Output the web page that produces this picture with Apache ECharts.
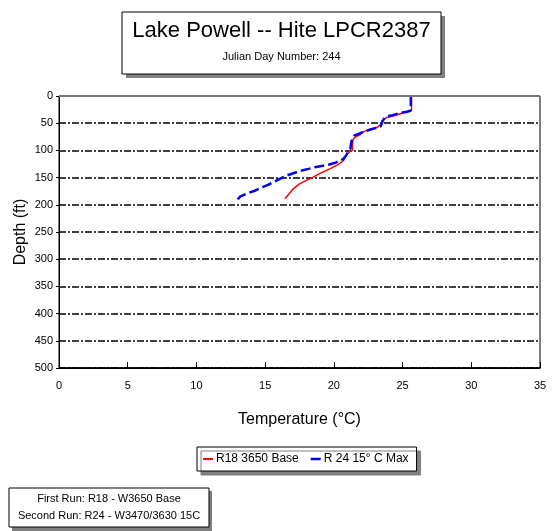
<!DOCTYPE html>
<html>
<head>
<meta charset="utf-8">
<script src="https://cdn.jsdelivr.net/npm/echarts@6/dist/echarts.min.js"></script>
<style>html,body{margin:0;padding:0;background:#fff;}#c{width:558px;height:531px;}</style>
</head>
<body>
<div id="c"></div>
<script>
var titleText = 'Lake Powell -- Hite LPCR2387';
var subtitleText = 'Julian Day Number: 244';
var xTicks = [0, 5, 10, 15, 20, 25, 30, 35];
var yTicks = [0, 50, 100, 150, 200, 250, 300, 350, 400, 450, 500];
var seriesNames = ['R18 3650 Base', 'R 24 15\u00b0 C Max'];
var noteLines = ['First Run: R18 - W3650 Base', 'Second Run: R24 - W3470/3630 15C'];

var redTemp  = [25.65,25.65,25.5,24.45,23.8,23.5,23.45,23.2,22.7,22.2,21.9,21.55,21.4,21.37,21.35,21.2,20.9,20.7,20.3,19.7,19.1,18.5,18.0,17.5,17.05,16.45];
var redDepth = [0,26,27,36,40,46,51,57,61,65,71.4,75.7,80,85,100,101.5,109,118.6,126,134,141,149,155,161.4,170.6,189];

var blueTemp  = [25.6,25.6,25.4,24.9,24.6,24.2,23.9,23.7,23.6,23.5,23.4,23.1,22.6,22.1,21.8,21.5,21.4,21.3,21.25,21.2,21.05,20.9,20.7,20.45,20.1,19.6,19.0,18.6,18.15,17.5,17.05,16.6,16.1,15.7,15.25,14.8,14.3,13.8,13.2,13.0];
var blueDepth = [0,26.7,28.5,31,32.8,35.8,37,40,43.8,49,56,58.5,62,66.5,69.5,72.6,75.7,81.8,88,97,101.5,109,115.5,118.6,122.8,126.5,129,131,134,138,142,146,152,157,163,167.6,173.7,178,184.7,190];

function pairs(xs, ys) { return xs.map(function (v, i) { return [v, ys[i]]; }); }

var FONT = 'Liberation Sans, Arial, sans-serif';
var chart = echarts.init(document.getElementById('c'), null, {renderer: 'canvas'});
var dashDot = [7, 2, 2, 2];

chart.setOption({
  animation: false,
  backgroundColor: '#fff',
  textStyle: {fontFamily: FONT},
  grid: {left: 59, right: 18, top: 96, bottom: 163, show: true, borderColor: '#000', borderWidth: 1},
  xAxis: {
    type: 'value', min: xTicks[0], max: xTicks[xTicks.length - 1], interval: 5,
    position: 'bottom',
    name: 'Temperature (\u00b0C)', nameLocation: 'middle', nameGap: 44, nameMoveOverlap: false,
    nameTextStyle: {fontSize: 16, color: '#000', fontFamily: FONT},
    axisLine: {show: true, onZero: false, lineStyle: {color: '#000', width: 1}},
    axisTick: {show: true, inside: true, length: 6, lineStyle: {color: '#000'}},
    axisLabel: {fontSize: 11, color: '#000', margin: 12, fontFamily: FONT},
    splitLine: {show: false}
  },
  yAxis: {
    type: 'value', min: yTicks[0], max: yTicks[yTicks.length - 1], interval: 50, inverse: true,
    name: 'Depth (ft)', nameLocation: 'middle', nameGap: 30, nameMoveOverlap: false,
    nameTextStyle: {fontSize: 16, color: '#000', fontFamily: FONT},
    axisLine: {show: true, onZero: false, lineStyle: {color: '#000', width: 1}},
    axisTick: {show: true, inside: false, length: 3, lineStyle: {color: '#000'}},
    axisLabel: {fontSize: 11, color: '#000', margin: 6, fontFamily: FONT},
    splitLine: {show: true, lineStyle: {color: '#000', width: 1.5, type: dashDot}}
  },
  legend: {
    left: 197, top: 447, orient: 'horizontal',
    padding: [6, 8, 6, 6], itemGap: 12, itemWidth: 10, itemHeight: 10,
    backgroundColor: '#fff', borderColor: '#000', borderWidth: 1,
    shadowColor: '#808080', shadowOffsetX: 4, shadowOffsetY: 4, shadowBlur: 0,
    textStyle: {fontSize: 12, color: '#000', fontFamily: FONT, padding: [0, 0, 0, -2]},
    data: [
      {name: seriesNames[0], icon: 'path://M0,4L10,4L10,6L0,6Z', itemStyle: {color: '#ff0000'}},
      {name: seriesNames[1], icon: 'path://M0,4L10,4L10,6.5L0,6.5Z', itemStyle: {color: '#0000ff'}}
    ]
  },
  graphic: [
    {type: 'line', shape: {x1: 59, y1: 96, x2: 540, y2: 96}, style: {stroke: '#777', lineWidth: 2}, silent: true, z: 100},
    {type: 'line', shape: {x1: 59, y1: 368, x2: 540, y2: 368}, style: {stroke: '#000', lineWidth: 1.5}, silent: true, z: 100},
    {type: 'rect', shape: {x: 126, y: 16, width: 319, height: 62}, style: {fill: '#808080'}, silent: true},
    {type: 'rect', shape: {x: 122, y: 12, width: 319, height: 62}, style: {fill: '#fff', stroke: '#000', lineWidth: 1}, silent: true},
    {type: 'text', x: 281.5, y: 31, style: {text: titleText, font: '22px ' + FONT, fill: '#000', textAlign: 'center', textVerticalAlign: 'middle'}},
    {type: 'text', x: 281.5, y: 57, style: {text: subtitleText, font: '11px ' + FONT, fill: '#000', textAlign: 'center', textVerticalAlign: 'middle'}},
    {type: 'rect', shape: {x: 12, y: 491, width: 200, height: 40}, style: {fill: '#808080'}, silent: true},
    {type: 'rect', shape: {x: 9, y: 488, width: 200, height: 39}, style: {fill: '#fff', stroke: '#000', lineWidth: 1}, silent: true},
    {type: 'text', x: 109, y: 499, style: {text: noteLines[0], font: '11px ' + FONT, fill: '#000', textAlign: 'center', textVerticalAlign: 'middle'}},
    {type: 'text', x: 109, y: 516, style: {text: noteLines[1], font: '11px ' + FONT, fill: '#000', textAlign: 'center', textVerticalAlign: 'middle'}}
  ],
  series: [{
    name: seriesNames[0], type: 'line', showSymbol: false, symbol: 'none', smooth: false,
    data: pairs(redTemp, redDepth), z: 3,
    lineStyle: {color: '#ff0000', width: 1.5}, itemStyle: {color: '#ff0000'}
  }, {
    name: seriesNames[1], type: 'line', showSymbol: false, symbol: 'none', smooth: false,
    data: pairs(blueTemp, blueDepth), z: 4,
    lineStyle: {color: '#0000ff', width: 2.5, type: [10, 4]}, itemStyle: {color: '#0000ff'}
  }]
});
</script>
</body>
</html>
